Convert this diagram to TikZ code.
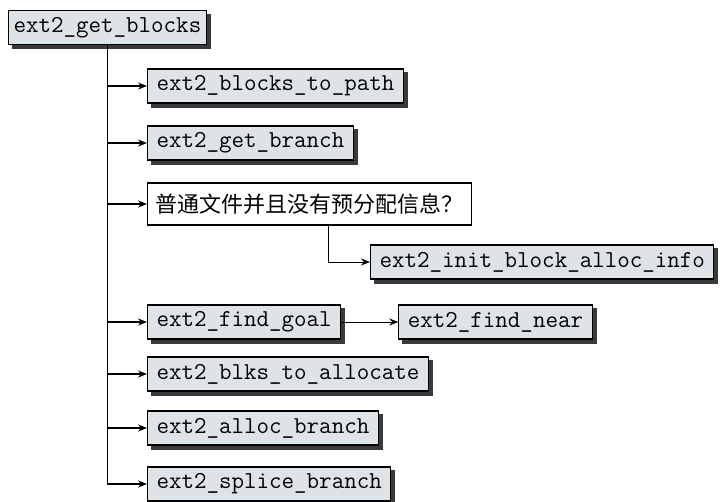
\documentclass[tikz,border=0pt]{standalone}
\usepackage{fontspec}
\newfontfamily\cjk{Noto Sans CJK SC}
\usepackage{xcolor}
\usetikzlibrary{arrows.meta, positioning, shadows}
\definecolor{boxfill}{HTML}{DDE3E6}
\definecolor{shadowgray}{HTML}{3A3A3A}

\begin{document}
\begin{tikzpicture}[x=1pt, y=1pt, node distance=57pt]
	% Styles
	\tikzstyle{func} = [draw, line width=1.1pt, fill=boxfill, rectangle, minimum height=34pt, inner xsep=9pt, anchor=west,
		font=\ttfamily\fontsize{24.3}{26}\selectfont,
		copy shadow={shadow xshift=4pt, shadow yshift=-4pt, fill=shadowgray, draw=shadowgray}]
	\tikzstyle{cond} = [draw, line width=1.1pt, fill=white, rectangle, minimum height=42pt, inner xsep=8pt, anchor=west,
		font=\cjk\fontsize{22}{26}\selectfont]
	\tikzstyle{trunk} = [line width=1.6pt, -{Stealth[length=9pt, width=7pt]}]
	\tikzstyle{branch} = [line width=1pt, -{Stealth[length=9pt, width=7pt]}]

	\useasboundingbox (0,0) rectangle (720,-501);

	% Nodes
	\node (getblocks) [func, inner xsep=5pt] at (8,-27.5) {ext2\_get\_blocks};
	\node (topath) [func] at (147,-86) {ext2\_blocks\_to\_path};
	\node (getbranch) [func] at (147,-143) {ext2\_get\_branch};
	\node (regular) [cond] at (147,-204) {普通文件并且没有预分配信息？};
	\node (initinfo) [func] at (370,-262) {ext2\_init\_block\_alloc\_info};
	\node (findgoal) [func] at (147,-322) {ext2\_find\_goal};
	\node (findnear) [func, right=of findgoal] {ext2\_find\_near};
	\node (toalloc) [func] at (147,-374) {ext2\_blks\_to\_allocate};
	\node (allocbranch) [func] at (147,-428) {ext2\_alloc\_branch};
	\node (splice) [func] at (147,-484) {ext2\_splice\_branch};

	% Connections
	\draw [trunk] (getblocks.south) |- (splice.west);
	\foreach \callee in {topath, getbranch, regular, findgoal, toalloc, allocbranch}
		\draw [trunk] (getblocks.south |- \callee.west) -- (\callee.west);
	\draw [branch] ([xshift=19pt]regular.south) |- (initinfo.west);
	\draw [branch] (findgoal) -- (findnear);
\end{tikzpicture}
\end{document}
